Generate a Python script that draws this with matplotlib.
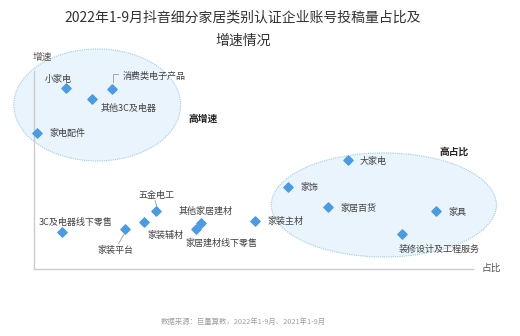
import matplotlib
matplotlib.use("Agg")
import matplotlib.pyplot as plt
from matplotlib.patches import Ellipse

plt.rcParams['font.family'] = ['Noto Sans CJK SC', 'DejaVu Sans']

# 占比 (x) / 增速 (y), relative units 0-100
names = ["小家电", "消费类电子产品", "其他3C及电器", "家电配件",
         "大家电", "家饰", "家居百货", "家具", "装修设计及工程服务", "家装主材",
         "3C及电器线下零售", "家装平台", "家装辅材", "五金电工", "其他家居建材", "家居建材线下零售"]
share = [7.3, 17.8, 13.2, 0.7,
         71.5, 57.9, 67.0, 91.6, 83.8, 50.3,
         6.4, 20.7, 25.1, 27.8, 38.0, 36.9]
growth = [88.7, 88.2, 83.3, 66.7,
          53.4, 40.2, 30.4, 28.4, 17.2, 23.5,
          18.1, 19.6, 23.0, 28.4, 22.5, 19.6]

# label offsets in pixels (dx, dy up, ha)
offs = {
    "小家电": (-8, 9, "center"),
    "消费类电子产品": (10, 13, "left"),
    "其他3C及电器": (9, -9, "left"),
    "家电配件": (12, 0, "left"),
    "大家电": (12, -1, "left"),
    "家饰": (12, 0, "left"),
    "家居百货": (12, -1, "left"),
    "家具": (12, -1, "left"),
    "装修设计及工程服务": (-3, -15, "left"),
    "家装主材": (13, 0, "left"),
    "3C及电器线下零售": (14, 10, "center"),
    "家装平台": (-9, -21, "center"),
    "家装辅材": (3, -13, "left"),
    "五金电工": (0, 16, "center"),
    "其他家居建材": (5, 12, "center"),
    "家居建材线下零售": (25, -14, "center"),
}

fig = plt.figure(figsize=(5.2, 3.36), dpi=100)
ax = fig.add_axes([34 / 520, 67 / 336, 439 / 520, 204 / 336])
ax.set_xlim(0, 100)
ax.set_ylim(0, 100)

# ellipses
ax.add_patch(Ellipse((14.4, 80.4), 38.0, 54.9, facecolor="#e9f4fc", edgecolor="#9ccbe9",
                     linestyle=(0, (1, 1)), linewidth=0.8, clip_on=False, zorder=1))
ax.add_patch(Ellipse((79.7, 31.4), 51.3, 51.0, facecolor="#e9f4fc", edgecolor="#9ccbe9",
                     linestyle=(0, (1, 1)), linewidth=0.8, clip_on=False, zorder=1))

ax.scatter(share, growth, marker="D", s=22, color="#4a9be3", zorder=3, clip_on=False)

for n, x, y in zip(names, share, growth):
    dx, dy, ha = offs[n]
    ax.annotate(n, (x, y), xytext=(dx, dy), textcoords="offset pixels",
                ha=ha, va="center", fontsize=6.5, color="#404040", zorder=4)

# leader lines
ax.plot([17.9, 17.9, 19.2], [91.5, 95.5, 95.5], color="#999999", lw=0.6, clip_on=False)
ax.plot([19.3, 20.6], [12.5, 17.5], color="#999999", lw=0.6)
ax.plot([28.0, 27.6], [30.5, 33.5], color="#999999", lw=0.6)

ax.text(38.5, 73.5, "高增速", fontsize=7, fontweight="bold", color="#222222", ha="center", va="center")
ax.text(95.7, 57.3, "高占比", fontsize=7, fontweight="bold", color="#222222", ha="center", va="center")

for s in ["top", "right"]:
    ax.spines[s].set_visible(False)
for s in ["left", "bottom"]:
    ax.spines[s].set_color("#cccccc")
    ax.spines[s].set_linewidth(1)
ax.spines["left"].set_bounds(0, 97)
ax.set_xticks([])
ax.set_yticks([])
ax.patch.set_alpha(0)

fig.text(42 / 520, 1 - 57 / 336, "增速", fontsize=7, color="#555555", ha="center", va="center")
fig.text(491 / 520, 1 - 268 / 336, "占比", fontsize=7, color="#555555", ha="center", va="center")

fig.text(243 / 520, 1 - 17 / 336, "2022年1-9月抖音细分家居类别认证企业账号投稿量占比及",
         fontsize=10, color="#333333", ha="center", va="center")
fig.text(243 / 520, 1 - 41 / 336, "增速情况", fontsize=10, color="#333333", ha="center", va="center")
fig.text(243 / 520, 1 - 322 / 336, "数据来源：巨量算数，2022年1-9月、2021年1-9月",
         fontsize=5.3, color="#a0a0a0", ha="center", va="center")

fig.savefig("out.png", dpi=100)
